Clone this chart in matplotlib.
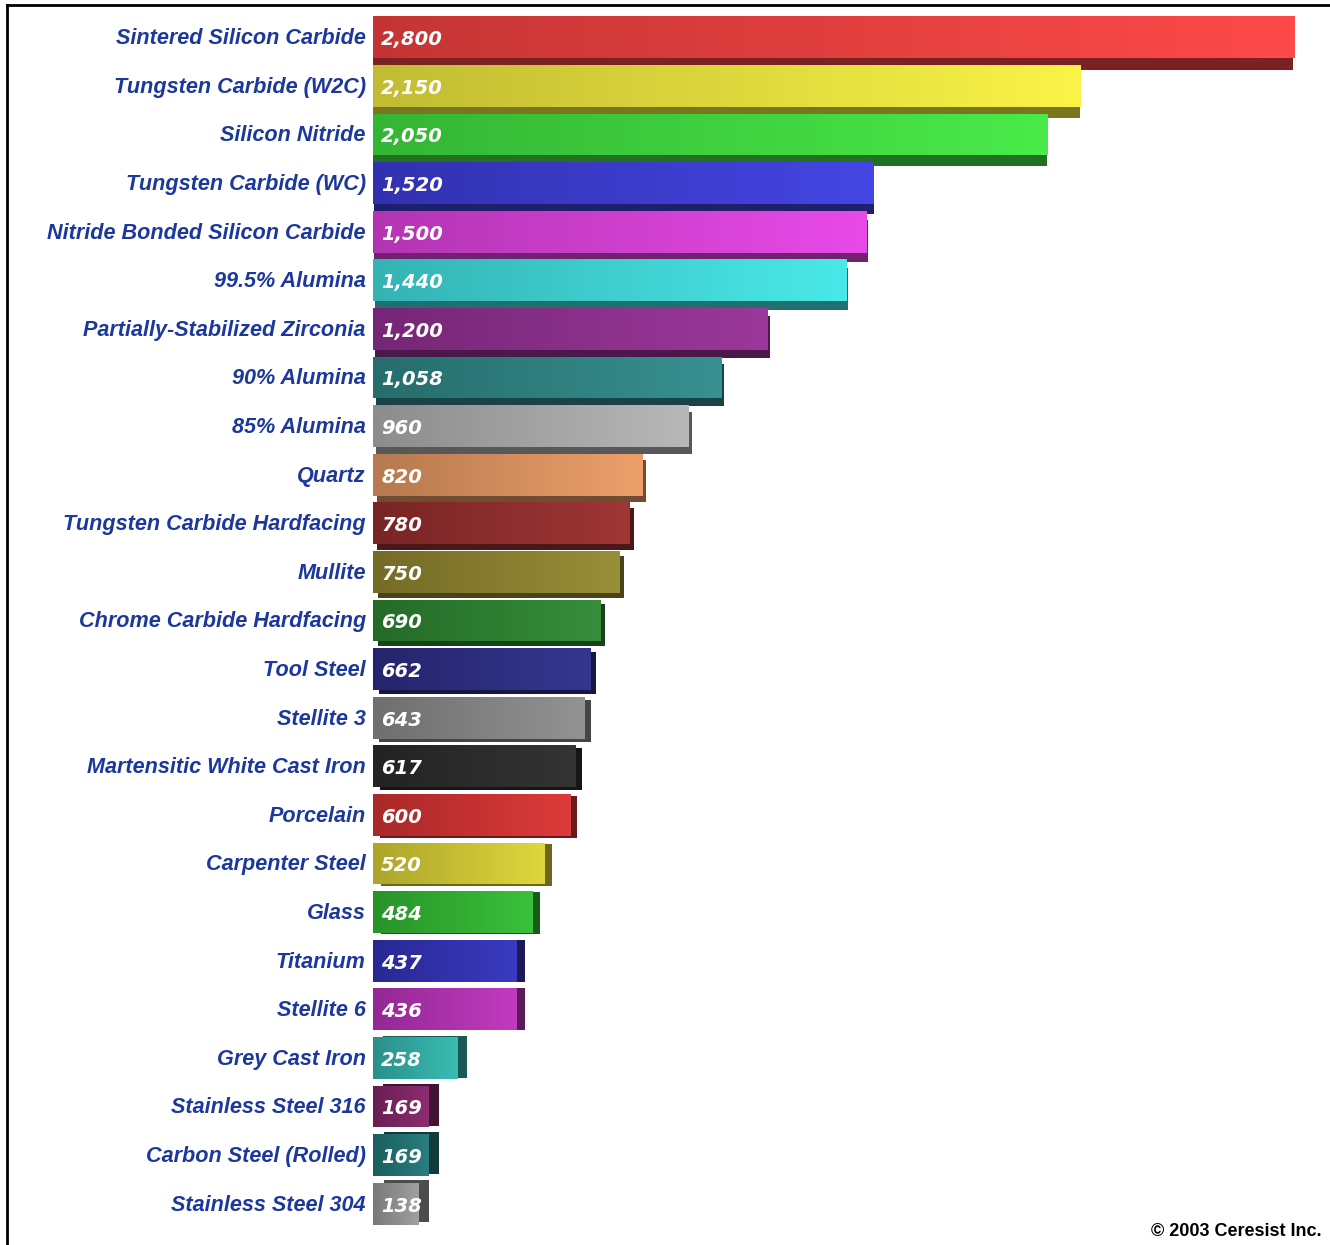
import numpy as np
import matplotlib.pyplot as plt
from matplotlib.lines import Line2D
from matplotlib.colors import to_rgb, LinearSegmentedColormap

materials = ['Sintered Silicon Carbide', 'Tungsten Carbide (W2C)', 'Silicon Nitride',
             'Tungsten Carbide (WC)', 'Nitride Bonded Silicon Carbide', '99.5% Alumina',
             'Partially-Stabilized Zirconia', '90% Alumina', '85% Alumina', 'Quartz',
             'Tungsten Carbide Hardfacing', 'Mullite', 'Chrome Carbide Hardfacing',
             'Tool Steel', 'Stellite 3', 'Martensitic White Cast Iron', 'Porcelain',
             'Carpenter Steel', 'Glass', 'Titanium', 'Stellite 6', 'Grey Cast Iron',
             'Stainless Steel 316', 'Carbon Steel (Rolled)', 'Stainless Steel 304']
values = [2800, 2150, 2050, 1520, 1500, 1440, 1200, 1058, 960, 820, 780, 750, 690,
          662, 643, 617, 600, 520, 484, 437, 436, 258, 169, 169, 138]
colors = ['#e03c3c', '#dcd63a', '#3cce3c', '#3838c8', '#cc3ccc', '#3ccccc', '#862c86',
          '#2c7c7c', '#a0a0a0', '#d08a5a', '#8a2a2a', '#847a2c', '#2a7a2e', '#2a2a7c',
          '#7e7e7e', '#282828', '#c22e2e', '#c4bc30', '#2ea82e', '#2e2ea8', '#a82ea8',
          '#2ea49c', '#78225e', '#1e6c6c', '#8a8a8a']

W, H = 1330, 1245
fig = plt.figure(figsize=(W / 100, H / 100), dpi=100)
ax = fig.add_axes([373 / W, 1 - 1228 / H, (W - 373) / W, 1215 / H])
xmax = 957 / 0.329
px = xmax / 957  # data units per pixel
n = len(values)
ypos = np.arange(n)
hgt = 0.86
grad = np.linspace(0, 1, 64).reshape(1, -1)

for i, (v, c) in enumerate(zip(values, colors)):
    rgb = np.array(to_rgb(c))
    dark = rgb * 0.55
    frac = i / (n - 1)
    dx = (3 + 12 * frac) * px
    dy = 0.24 - 0.3 * frac
    # depth of the 3d bar
    ax.barh(ypos[i] + dy, v, left=dx - 4 * px, height=hgt, color=dark, zorder=4 * i + 1)
    # front face with a left-to-right shading
    face = ax.barh(ypos[i], v, height=hgt, color=c, zorder=4 * i + 2).patches[0]
    cmap = LinearSegmentedColormap.from_list('f%d' % i, [rgb * 0.88, np.minimum(rgb * 1.1 + 0.03, 1)])
    im = ax.imshow(grad, extent=[0, v, ypos[i] + hgt / 2, ypos[i] - hgt / 2], aspect='auto',
                   cmap=cmap, zorder=4 * i + 3, interpolation='bilinear')
    im.set_clip_path(face)
    ax.text(25, ypos[i] + 0.05, '{:,}'.format(v), color='white', fontsize=14,
            fontweight='bold', fontstyle='italic', va='center', ha='left', zorder=200)
    ax.text(-22, ypos[i] + 0.03, materials[i], color='#1c389c', fontsize=15.6,
            fontweight='bold', fontstyle='italic', family='Liberation Sans',
            va='center', ha='right', zorder=200, clip_on=False)

ax.set_xlim(0, xmax)
ax.set_ylim(n - 0.5, -0.5)
ax.axis('off')

# frame lines at top and left
fig.add_artist(Line2D([7 / W, 1], [1 - 5 / H, 1 - 5 / H], color='black', lw=2))
fig.add_artist(Line2D([7 / W, 7 / W], [1 - 5 / H, 0], color='black', lw=2))

fig.text(1322 / W, 1 - 1236 / H, '\u00a9 2003 Ceresist Inc.', ha='right', va='baseline',
         fontsize=13, fontweight='bold', family='Liberation Sans')

plt.savefig('out.png', dpi=100)
